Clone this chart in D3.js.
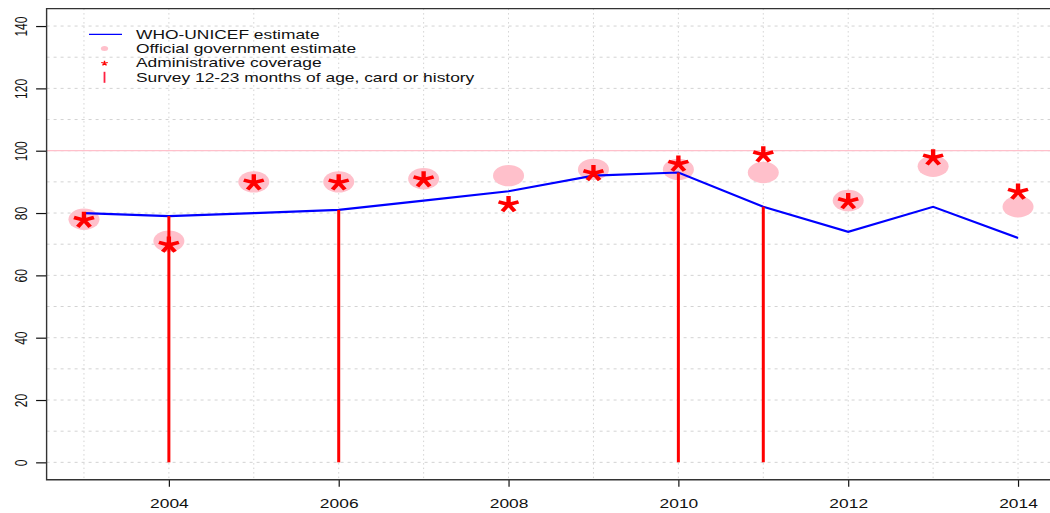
<!DOCTYPE html>
<html>
<head>
<meta charset="utf-8">
<script src="https://cdn.jsdelivr.net/npm/d3@7/dist/d3.min.js"></script>
<style>
  html, body { margin: 0; padding: 0; background: #fff; }
  svg { display: block; font-family: "Liberation Sans", Arial, sans-serif; }
</style>
</head>
<body>
<svg id="chart" width="1050" height="513"></svg>
<script>
// Immunization coverage, 2003-2014
const years = [2003, 2004, 2005, 2006, 2007, 2008, 2009, 2010, 2011, 2012, 2013, 2014];
const wuenicEstimate = [80, 79, 80, 81, 84, 87, 92, 93, 82, 74, 82, 72];
const officialEstimate = [78, 71, 90, 90, 91, 92, 94, 94, 93, 84, 95, 82];
const adminCoverage = [78, 70, 90, 90, 91, 83, 93, 96, 99, 84, 98, 87];
const surveyYears = [2004, 2006, 2010, 2011];
const surveyCoverage = [79, 81, 93, 82];
const xTickYears = [2004, 2006, 2008, 2010, 2012, 2014];
const yTickValues = [0, 20, 40, 60, 80, 100, 120, 140];
const legendLabels = [
  "WHO-UNICEF estimate",
  "Official government estimate",
  "Administrative coverage",
  "Survey 12-23 months of age, card or history"
];

const SX = 1.45; // horizontal stretch of the device
const svg = d3.select("#chart");

const x = d3.scaleLinear().domain([2002.56, 2014.44]).range([46.6, 1055.4]);
const y = d3.scaleLinear().domain([-5.6, 145.6]).range([479.8, 8.6]);
const [x0, x1] = x.range();
const [yb, yt] = y.range();

// grid
const grid = svg.append("g").attr("stroke", "#d3d3d3").attr("stroke-width", 1);
grid.selectAll("line.v").data(years).join("line")
  .attr("x1", d => x(d)).attr("x2", d => x(d))
  .attr("y1", yt).attr("y2", yb)
  .attr("stroke-dasharray", "1.5,3");
grid.selectAll("line.h").data(d3.range(0, 141, 10)).join("line")
  .attr("x1", x0).attr("x2", x1)
  .attr("y1", d => y(d)).attr("y2", d => y(d))
  .attr("stroke-dasharray", "3,4");

// 100% reference
svg.append("line")
  .attr("x1", x0).attr("x2", x1)
  .attr("y1", y(100)).attr("y2", y(100))
  .attr("stroke", "#ffc0cb").attr("stroke-width", 1.2);

// official government estimates
svg.append("g").selectAll("ellipse").data(years).join("ellipse")
  .attr("cx", d => x(d))
  .attr("cy", (d, i) => y(officialEstimate[i]))
  .attr("rx", 15.5).attr("ry", 10.7)
  .attr("fill", "#ffc0cb");

// WHO-UNICEF estimate line
svg.append("path")
  .datum(years)
  .attr("fill", "none")
  .attr("stroke", "#0000ff")
  .attr("stroke-width", 2.2)
  .attr("d", d3.line().x(d => x(d)).y((d, i) => y(wuenicEstimate[i])));

// survey results
svg.append("g").selectAll("line").data(surveyYears).join("line")
  .attr("x1", d => x(d)).attr("x2", d => x(d))
  .attr("y1", y(0))
  .attr("y2", (d, i) => y(surveyCoverage[i]))
  .attr("stroke", "#ff0000").attr("stroke-width", 3);

// five-armed asterisk marker
function asterisk(L) {
  let p = "";
  for (let k = 0; k < 5; k++) {
    const a = -Math.PI / 2 + k * 2 * Math.PI / 5;
    p += `M0,0L${(L * Math.cos(a)).toFixed(2)},${(L * Math.sin(a)).toFixed(2)}`;
  }
  return p;
}
// vertical centre of the five-armed star relative to its hub
const starOffset = L => (L * (1 - Math.cos(Math.PI / 5))) / 2;

const LA = 8.4;
svg.append("g").selectAll("path").data(years).join("path")
  .attr("d", asterisk(LA))
  .attr("transform", (d, i) =>
    `translate(${x(d)},${y(adminCoverage[i]) + starOffset(LA)}) scale(1.25,1)`)
  .attr("fill", "none")
  .attr("stroke", "#ff0000")
  .attr("stroke-width", 3.5);

// axes
const xAxis = d3.axisBottom(x).tickValues(xTickYears).tickFormat(d3.format("d"))
  .tickSize(7).tickSizeOuter(0);
const gx = svg.append("g").attr("transform", `translate(0,${yb})`).call(xAxis);
gx.select(".domain").remove();
gx.selectAll(".tick line").attr("stroke", "#111").attr("stroke-width", 1.2);
gx.selectAll(".tick text")
  .attr("y", 0).attr("dy", null)
  .attr("transform", `translate(0,28) scale(${SX},1)`)
  .attr("fill", "#111").attr("font-size", 12);

const yAxis = d3.axisLeft(y).tickValues(yTickValues).tickSize(10.5).tickSizeOuter(0);
const gy = svg.append("g").attr("transform", `translate(${x0},0)`).call(yAxis);
gy.select(".domain").remove();
gy.selectAll(".tick line").attr("stroke", "#111").attr("stroke-width", 1.2);
gy.selectAll(".tick text")
  .attr("x", 0).attr("dy", null)
  .attr("text-anchor", "middle")
  .attr("transform", `translate(-20,0) scale(${SX},1) rotate(-90)`)
  .attr("fill", "#111").attr("font-size", 12);

// plot frame
svg.append("path")
  .attr("d", `M${x1},${yt}H${x0}V${yb}H${x1}`)
  .attr("fill", "none").attr("stroke", "#333").attr("stroke-width", 1.4);

// legend
const legend = svg.append("g");
const rowY = [34.3, 48.5, 63, 77.3];
legend.append("line")
  .attr("x1", 89).attr("x2", 122).attr("y1", rowY[0]).attr("y2", rowY[0])
  .attr("stroke", "#0000ff").attr("stroke-width", 1.2);
legend.append("ellipse")
  .attr("cx", 104.5).attr("cy", rowY[1]).attr("rx", 3.6).attr("ry", 2.5)
  .attr("fill", "#ffc0cb");
legend.append("path")
  .attr("d", asterisk(2.6))
  .attr("transform", `translate(104.5,${rowY[2] + starOffset(2.6)}) scale(1.3,1)`)
  .attr("fill", "none").attr("stroke", "#ff0000").attr("stroke-width", 1.1);
legend.append("line")
  .attr("x1", 104.5).attr("x2", 104.5).attr("y1", rowY[3] - 5.5).attr("y2", rowY[3] + 5.5)
  .attr("stroke", "#ff2040").attr("stroke-width", 1.8);
legend.selectAll("text").data(legendLabels).join("text")
  .attr("transform", (d, i) => `translate(136,${rowY[i] + 4.3}) scale(${SX},1)`)
  .attr("font-size", 12).attr("fill", "#111")
  .text(d => d);
</script>
</body>
</html>
